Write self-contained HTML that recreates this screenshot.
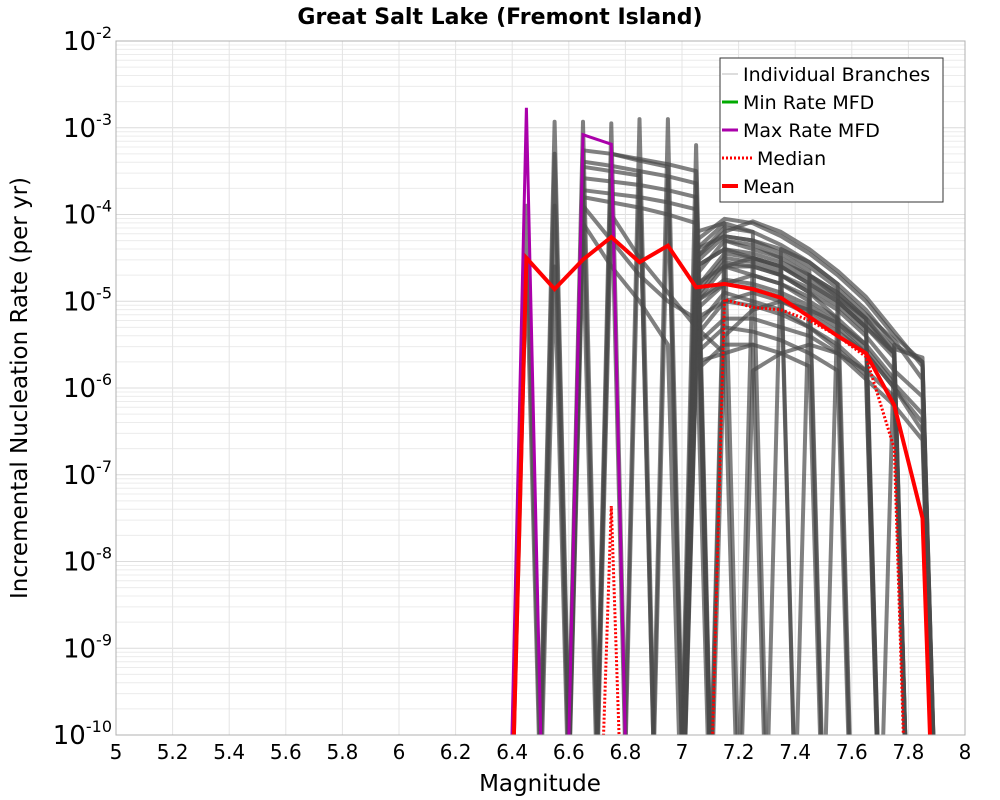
<!DOCTYPE html>
<html><head><meta charset="utf-8"><style>
html,body{margin:0;background:#fff;overflow:hidden;width:1000px;height:800px;}
svg{display:block;}
svg text{font-family:"DejaVu Sans","Liberation Sans",sans-serif;}
</style></head><body>
<svg id="chart" width="1000" height="800" xmlns="http://www.w3.org/2000/svg">
<text x="500" y="24" text-anchor="middle" font-size="22" font-weight="bold">Great Salt Lake (Fremont Island)</text>
<g id="grid"></g>
<g id="ticks"></g>
<defs><clipPath id="clip"><rect x="116" y="41" width="849" height="694"/></clipPath></defs>
<g id="series" clip-path="url(#clip)"></g>
<rect x="116" y="41" width="849" height="694" fill="none" stroke="#b0b0b0" stroke-width="1"/>
<text x="540" y="791" text-anchor="middle" font-size="23">Magnitude</text>
<text transform="translate(27,388) rotate(-90)" text-anchor="middle" font-size="23">Incremental Nucleation Rate (per yr)</text>
<g>
<rect x="720" y="58" width="223" height="144" fill="#fff" stroke="#333" stroke-width="1"/>
<g><line x1="722" y1="74" x2="738" y2="74" stroke="#bbb" stroke-width="1"/><text x="743" y="81" font-size="19">Individual Branches</text></g>
<g><line x1="722" y1="102" x2="738" y2="102" stroke="#00aa00" stroke-width="3"/><text x="743" y="109" font-size="19">Min Rate MFD</text></g>
<g><line x1="722" y1="130" x2="738" y2="130" stroke="#aa00aa" stroke-width="3"/><text x="743" y="137" font-size="19">Max Rate MFD</text></g>
<g><line x1="722" y1="158" x2="752" y2="158" stroke="#ff0000" stroke-width="3" stroke-dasharray="2,2"/><text x="757" y="165" font-size="19">Median</text></g>
<g><line x1="722" y1="186" x2="738" y2="186" stroke="#ff0000" stroke-width="4"/><text x="743" y="193" font-size="19">Mean</text></g>
</g>
</svg>
<script>
const bins=[6.35,6.45,6.55,6.65,6.75,6.85,6.95,7.05,7.15,7.25,7.35,7.45,7.55,7.65,7.75,7.85,7.95];
const xTicks=[5,5.2,5.4,5.6,5.8,6,6.2,6.4,6.6,6.8,7,7.2,7.4,7.6,7.8,8];
const xTickLabels=["5","5.2","5.4","5.6","5.8","6","6.2","6.4","6.6","6.8","7","7.2","7.4","7.6","7.8","8"];
const yDecades=[-2,-3,-4,-5,-6,-7,-8,-9,-10];
const n=null;
const meanLog=[n,-4.5,-4.86,-4.52,-4.26,-4.55,-4.36,-4.84,-4.8,-4.86,-4.96,-5.18,-5.4,-5.6,-6.2,-7.5,n];
const medianLog=[n,n,n,n,-7.36,n,n,n,-4.98,-5.07,-5.1,-5.22,-5.4,-5.64,-6.7,n,n];
const maxRateLog=[n,-2.77,n,-3.08,-3.19,n,n,n,n,n,n,n,n,n,n,n,n];
const spikeBranches=[
[n,-3.9,n,n,n,n,n,n,n,n,n,n,n,n,n,n,n],
[n,-4.5,n,n,n,n,n,n,n,n,n,n,n,n,n,n,n],
[n,n,-2.93,n,n,n,n,n,n,n,n,n,n,n,n,n,n],
[n,n,-3.3,n,n,n,n,n,n,n,n,n,n,n,n,n,n],
[n,n,-3.9,n,n,n,n,n,n,n,n,n,n,n,n,n,n],
[n,n,-4.6,n,n,n,n,n,n,n,n,n,n,n,n,n,n],
[n,n,n,-2.93,n,n,n,n,n,n,n,n,n,n,n,n,n],
[n,n,n,-3.5,n,n,n,n,n,n,n,n,n,n,n,n,n],
[n,n,n,-4.3,n,n,n,n,n,n,n,n,n,n,n,n,n],
[n,n,n,n,-2.95,n,n,n,n,n,n,n,n,n,n,n,n],
[n,n,n,n,-3.6,n,n,n,n,n,n,n,n,n,n,n,n],
[n,n,n,n,n,-2.9,n,n,n,n,n,n,n,n,n,n,n],
[n,n,n,n,n,-3.5,n,n,n,n,n,n,n,n,n,n,n],
[n,n,n,n,n,n,-2.9,n,n,n,n,n,n,n,n,n,n],
[n,n,n,n,n,n,-3.6,n,n,n,n,n,n,n,n,n,n],
[n,n,n,n,n,n,n,-3.2,n,n,n,n,n,n,n,n,n],
[n,n,n,n,n,n,n,-3.8,n,n,n,n,n,n,n,n,n],
[n,n,n,-3.26,-3.3,-3.36,-3.42,-3.5,n,n,n,n,n,n,n,n,n],
[n,n,n,-3.39,-3.44,-3.5,-3.56,-3.64,n,n,n,n,n,n,n,n,n],
[n,n,n,-3.58,-3.62,-3.66,-3.72,-3.8,n,n,n,n,n,n,n,n,n],
[n,n,n,-3.72,-3.76,-3.8,-3.86,-3.94,n,n,n,n,n,n,n,n,n],
[n,n,n,-3.8,-3.86,-3.92,-4.0,-4.1,n,n,n,n,n,n,n,n,n],
[n,n,n,-3.45,-3.5,-3.55,n,n,n,n,n,n,n,n,n,n,n],
[n,n,n,n,-3.3,-3.38,-3.45,n,n,n,n,n,n,n,n,n,n],
[n,n,n,-3.9,-4.3,-4.7,-5.0,-5.2,n,n,n,n,n,n,n,n,n],
[n,n,n,n,-4.0,-4.5,-4.9,-5.3,-5.6,n,n,n,n,n,n,n,n],
[n,n,n,-4.1,-4.6,-5.0,-5.5,n,n,n,n,n,n,n,n,n,n]
];
const grBranches=[
[n,n,n,n,n,n,n,-4.3,-4.05,-4.1,-4.25,-4.45,-4.7,-5.0,-5.4,-5.7,n],
[n,n,n,n,n,n,n,-4.5,-4.2,-4.08,-4.2,-4.4,-4.65,-4.95,-5.35,-5.75,n],
[n,n,n,n,n,n,n,-4.6,-4.4,-4.45,-4.55,-4.7,-4.9,-5.2,-5.6,n,n],
[n,n,n,n,n,n,n,-4.8,-4.6,-4.6,-4.7,-4.85,-5.05,-5.35,n,n,n],
[n,n,n,n,n,n,n,-5.0,-4.75,-4.8,-4.9,-5.05,-5.25,-5.55,-5.95,-6.3,n],
[n,n,n,n,n,n,n,-4.4,-4.25,-4.3,-4.45,-4.65,n,n,n,n,n],
[n,n,n,n,n,n,n,-4.9,-4.5,-4.55,-4.7,-4.9,-5.2,-5.5,-5.9,n,n],
[n,n,n,n,n,n,n,-5.2,-5.0,-4.9,-5.0,-5.15,-5.35,-5.6,-6.0,-6.4,n],
[n,n,n,n,n,n,n,-4.7,-4.3,-4.35,-4.5,n,n,n,n,n,n],
[n,n,n,n,n,n,n,-5.3,-4.9,-5.0,-5.1,-5.3,-5.5,-5.8,n,n,n],
[n,n,n,n,n,n,n,-4.5,-4.15,-4.2,n,n,n,n,n,n,n],
[n,n,n,n,n,n,n,-5.0,-4.6,-4.7,-4.8,-5.0,-5.2,n,n,n,n],
[n,n,n,n,n,n,n,-5.5,-5.2,-5.2,-5.3,-5.4,-5.6,-5.9,-6.2,-6.6,n],
[n,n,n,n,n,n,n,-4.6,-4.4,-4.5,-4.6,-4.75,-4.95,-5.2,-5.55,-5.65,n],
[n,n,n,n,n,n,n,n,-4.3,-4.4,-4.5,-4.7,-4.95,-5.25,-5.6,n,n],
[n,n,n,n,n,n,n,-4.85,-4.45,-4.5,-4.6,-4.8,-5.0,-5.3,n,n,n],
[n,n,n,n,n,n,n,-5.1,-4.8,-4.85,-4.95,-5.1,-5.3,-5.6,-6.0,-6.5,n],
[n,n,n,n,n,n,n,-4.4,-4.1,-4.2,-4.35,-4.55,-4.8,-5.1,-5.5,n,n],
[n,n,n,n,n,n,n,-5.6,-5.3,-5.35,-5.45,-5.6,-5.8,n,n,n,n],
[n,n,n,n,n,n,n,-4.55,-4.25,-4.3,-4.4,-4.6,-4.85,-5.15,-5.45,-5.9,n],
[n,n,n,n,n,n,n,-5.8,-5.5,-5.5,-5.6,-5.75,n,n,n,n,n],
[n,n,n,n,n,n,n,-4.95,-4.55,-4.6,-4.7,-4.9,-5.1,-5.4,-5.8,-6.1,n],
[n,n,n,n,n,n,n,-5.4,-5.0,-5.05,-5.15,-5.3,-5.55,-5.85,n,n,n],
[n,n,n,n,n,n,n,n,n,-4.5,-4.6,-4.8,-5.0,-5.3,-5.65,n,n],
[n,n,n,n,n,n,n,-4.2,-4.1,n,n,n,n,n,n,n,n],
[n,n,n,n,n,n,n,n,-4.6,-4.5,-4.65,n,n,n,n,n,n],
[n,n,n,n,n,n,n,n,n,n,-4.4,-4.55,-4.8,n,n,n,n],
[n,n,n,n,n,n,n,n,n,n,n,-4.7,-4.9,-5.2,n,n,n],
[n,n,n,n,n,n,n,n,n,n,n,n,-5.0,-5.3,-5.6,n,n],
[n,n,n,n,n,n,n,n,n,n,n,n,n,n,-5.5,-5.7,n],
[n,n,n,n,n,n,n,-5.0,-4.8,-4.7,-4.8,-4.95,n,n,n,n,n],
[n,n,n,n,n,n,n,n,-5.4,-5.1,-5.0,-5.1,-5.25,-5.5,n,n,n],
[n,n,n,n,n,n,n,-5.7,-5.6,-5.5,n,n,n,n,n,n,n],
[n,n,n,n,n,n,n,n,n,-5.8,-5.6,-5.5,-5.6,-5.8,-6.1,n,n]
];
const L=116,R=965,T=41,B=735;
const xS=m=>L+(m-5)/3*(R-L);
const yS=lg=>T+(-2-lg)/8*(B-T);
const NS="http://www.w3.org/2000/svg";
function mk(tag,attrs,parent){const e=document.createElementNS(NS,tag);for(const k in attrs)e.setAttribute(k,attrs[k]);parent.appendChild(e);return e;}
const grid=document.getElementById('grid'),ticks=document.getElementById('ticks'),series=document.getElementById('series');
for(let d=-10;d<-2;d++){for(let k=1;k<10;k++){const y=yS(d+Math.log10(k));
const ln=mk('line',{x1:L,x2:R,y1:y,y2:y,stroke:k==1?'#dcdcdc':'#ececec','stroke-width':1},grid);

}}
xTicks.forEach((v,i)=>{const x=xS(v);
const gl=mk('line',{x1:x,x2:x,y1:T,y2:B,stroke:'#e4e4e4','stroke-width':1},grid);


const t=mk('text',{x:x,y:759,'text-anchor':'middle','font-size':20},ticks);t.textContent=xTickLabels[i];

});
yDecades.forEach(d=>{const y=yS(d);
const t=mk('text',{x:112,y:y+9,'text-anchor':'end','font-size':26},ticks);


const a=document.createElementNS(NS,'tspan');a.textContent='10';t.appendChild(a);
const b=document.createElementNS(NS,'tspan');b.setAttribute('dy','-12');b.setAttribute('font-size','16');b.textContent=String(d);t.appendChild(b);});
const FLOOR=-17;
function pts(arr){return arr.map((v,i)=>xS(bins[i]).toFixed(1)+','+yS(v===null?FLOOR:v).toFixed(1)).join(' ');}
spikeBranches.concat(grBranches).forEach(br=>{
const p=mk('polyline',{points:pts(br),fill:'none',stroke:'#4a4a4a','stroke-opacity':0.7,'stroke-width':4,'stroke-linejoin':'round'},series);

});
const mx=mk('polyline',{points:pts(maxRateLog),fill:'none',stroke:'#aa00aa','stroke-width':3},series);


const md=mk('polyline',{points:pts(medianLog),fill:'none',stroke:'#ff0000','stroke-width':3,'stroke-dasharray':'2,2'},series);


const mn=mk('polyline',{points:pts(meanLog),fill:'none',stroke:'#ff0000','stroke-width':4},series);


</script>
</body></html>
